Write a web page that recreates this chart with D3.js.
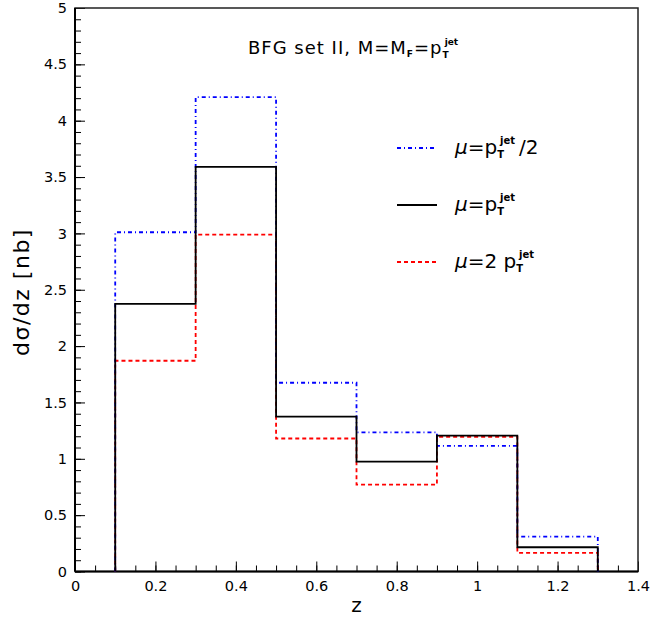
<!DOCTYPE html>
<html><head><meta charset="utf-8">
<script src="https://cdn.jsdelivr.net/npm/d3@7"></script>
<style>body{margin:0;background:#fff}svg{display:block}text{font-family:"DejaVu Sans","Liberation Sans",Arial,sans-serif}</style>
</head><body>
<script>
const binEdges = [0.1, 0.3, 0.5, 0.7, 0.9, 1.1, 1.3];
const muHalf = [3.01, 4.21, 1.675, 1.235, 1.115, 0.31];
const muOne  = [2.375, 3.59, 1.375, 0.975, 1.205, 0.215];
const muTwo  = [1.87, 2.99, 1.18, 0.77, 1.195, 0.165];
const xTicks = [0, 0.2, 0.4, 0.6, 0.8, 1, 1.2, 1.4];
const yTicks = [0, 0.5, 1, 1.5, 2, 2.5, 3, 3.5, 4, 4.5, 5];

const W = 651, H = 620;
const m = {l: 75, r: 13, t: 8, b: 48.5};
const svg = d3.select("body").append("svg").attr("width", W).attr("height", H);
const x = d3.scaleLinear().domain([0, 1.4]).range([m.l, W - m.r]);
const y = d3.scaleLinear().domain([0, 5]).range([H - m.b, m.t]);

// x axis: major ticks
const gx = svg.append("g").attr("transform", `translate(0,${y(0)})`);
gx.call(d3.axisBottom(x).tickValues(xTicks).tickSize(-10).tickPadding(9)
  .tickFormat(d => d3.format("")(d)));
gx.select(".domain").remove();
gx.selectAll(".tick line").attr("stroke", "#000").attr("stroke-width", 1);
gx.selectAll(".tick text").attr("font-size", 14.5).attr("fill", "#000").attr("font-family", "DejaVu Sans");
// x minor
const gxm = svg.append("g").attr("transform", `translate(0,${y(0)})`);
gxm.call(d3.axisBottom(x).tickValues(d3.range(0, 1.4001, 0.05)).tickSize(-6).tickFormat(""));
gxm.select(".domain").remove();
gxm.selectAll(".tick line").attr("stroke", "#000").attr("stroke-width", 1);

// y axis
const gy = svg.append("g").attr("transform", `translate(${x(0)},0)`);
gy.call(d3.axisLeft(y).tickValues(yTicks).tickSize(-10).tickPadding(8)
  .tickFormat(d => d3.format("")(d)));
gy.select(".domain").remove();
gy.selectAll(".tick line").attr("stroke", "#000").attr("stroke-width", 1);
gy.selectAll(".tick text").attr("font-size", 14.5).attr("fill", "#000").attr("font-family", "DejaVu Sans");
const gym = svg.append("g").attr("transform", `translate(${x(0)},0)`);
gym.call(d3.axisLeft(y).tickValues(d3.range(0, 5.0001, 0.1)).tickSize(-6).tickFormat(""));
gym.select(".domain").remove();
gym.selectAll(".tick line").attr("stroke", "#000").attr("stroke-width", 1);

// frame
svg.append("rect").attr("x", x(0)).attr("y", y(5)).attr("width", x(1.4) - x(0)).attr("height", y(0) - y(5))
  .attr("fill", "none").attr("stroke", "#222").attr("stroke-width", 1.5);
svg.append("line").attr("x1", x(0)).attr("x2", x(1.4)).attr("y1", y(0)).attr("y2", y(0))
  .attr("stroke", "#000").attr("stroke-width", 2);
svg.append("line").attr("x1", x(0)).attr("x2", x(0)).attr("y1", y(0)).attr("y2", y(5))
  .attr("stroke", "#000").attr("stroke-width", 2);

function histPts(vals) {
  const pts = [[binEdges[0], 0]];
  vals.forEach((v, i) => { pts.push([binEdges[i], v]); pts.push([binEdges[i + 1], v]); });
  pts.push([binEdges[binEdges.length - 1], 0]);
  return pts;
}
const line = d3.line().x(d => x(d[0])).y(d => y(d[1]));
const series = [
  {vals: muTwo, color: "#ff0000", dash: "4,3", w: 1.8},
  {vals: muHalf, color: "#0000ff", dash: "4,3,1,3", w: 1.8},
  {vals: muOne, color: "#000000", dash: null, w: 1.8}
];
series.forEach(s => {
  svg.append("path").attr("d", line(histPts(s.vals))).attr("fill", "none")
    .attr("stroke", s.color).attr("stroke-width", s.w).attr("stroke-dasharray", s.dash);
});

// title
const t = svg.append("text").attr("x", 248).attr("y", 54).attr("font-size", 18).attr("fill", "#000");
t.append("tspan").attr("letter-spacing", 1).text("BFG set II, M=M");
t.append("tspan").attr("font-size", 9).attr("font-weight", "bold").attr("dy", 3).text("F");
t.append("tspan").attr("dy", -3).attr("dx", 1).attr("letter-spacing", 1).text("=p");
t.append("tspan").attr("font-size", 9).attr("font-weight", "bold").attr("dy", 4).text("T");
t.append("tspan").attr("font-size", 9).attr("font-weight", "bold").attr("dx", -4).attr("dy", -13).text("jet");

// legend
const legend = [
  {color: "#0000ff", dash: "4,3,1,3", w: 1.8, tail: "/2", pre: "="},
  {color: "#000000", dash: null, w: 1.8, tail: "", pre: "="},
  {color: "#ff0000", dash: "4,3", w: 1.8, tail: "", pre: "=2 "}
];
const ly = [148, 205, 262];
legend.forEach((l, i) => {
  svg.append("line").attr("x1", 397).attr("x2", 437).attr("y1", ly[i]).attr("y2", ly[i])
    .attr("stroke", l.color).attr("stroke-width", l.w).attr("stroke-dasharray", l.dash);
  const tx = svg.append("text").attr("x", 455).attr("y", ly[i] + 6).attr("font-size", 20).attr("fill", "#000");
  tx.append("tspan").attr("font-style", "italic").text("\u03bc");
  tx.append("tspan").text(l.pre + "p");
  tx.append("tspan").attr("font-size", 10).attr("font-weight", "bold").attr("dy", 4).text("T");
  tx.append("tspan").attr("font-size", 10).attr("font-weight", "bold").attr("dx", -4).attr("dy", -14).text("jet");
  if (l.tail) tx.append("tspan").attr("dy", 10).attr("dx", 4).text(l.tail);
});

// axis labels
svg.append("text").attr("x", x(0.7)).attr("y", 612).attr("text-anchor", "middle").attr("font-size", 20).text("z");
svg.append("text").attr("transform", `translate(29,292) rotate(-90)`).attr("text-anchor", "middle")
  .attr("font-size", 22).attr("letter-spacing", 1.5).text("d\u03c3/dz [nb]");
</script>
</body></html>
